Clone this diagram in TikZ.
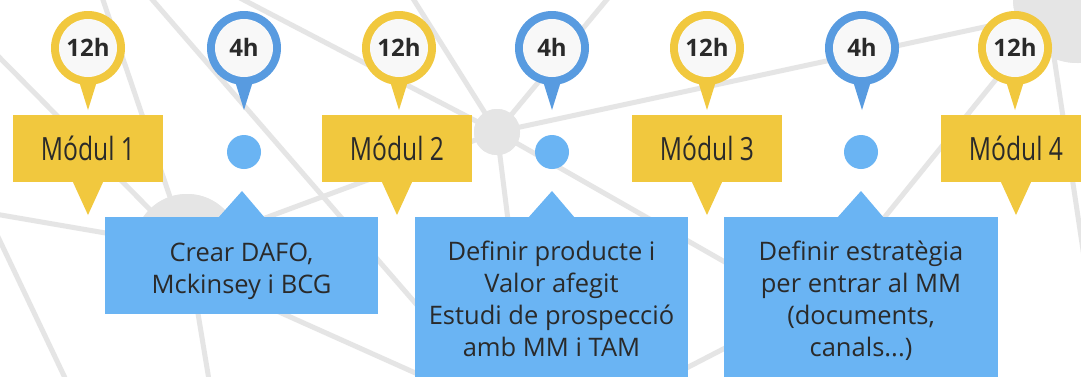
\documentclass[tikz,border=0pt]{standalone}
\usepackage{fontspec}
\setmainfont{Open Sans}
\newfontfamily\modfont[FakeStretch=0.77]{Open Sans}
\definecolor{ycol}{HTML}{F1C83E}
\definecolor{pcol}{HTML}{589BE0}
\definecolor{bcol}{HTML}{6AB4F3}
\definecolor{gcol}{HTML}{E5E5E5}
\definecolor{pinin}{HTML}{F8F8F8}
\definecolor{txt}{HTML}{2A2A2A}
\tikzset{
  gline/.style={draw=gcol, line width=5pt},
  gnode/.style={circle, fill=gcol, inner sep=0pt},
  pinouter/.style={circle, inner sep=0pt, minimum size=74pt},
  pininner/.style={circle, fill=pinin, inner sep=0pt, minimum size=58pt, text=txt,
    font=\bfseries\fontsize{24}{24}\selectfont, text height=17pt, text depth=0pt},
  modbox/.style={fill=ycol, inner sep=0pt, minimum width=150pt, minimum height=67pt, text=txt,
    font=\modfont\fontsize{32}{32}\selectfont, text height=23pt, text depth=0pt},
  bluebox/.style={fill=bcol, inner sep=0pt, anchor=north west},
  bdot/.style={circle, fill=bcol, inner sep=0pt, minimum size=34pt},
  btext/.style={anchor=base, inner sep=0pt, text=txt, font=\fontsize{25.5}{32}\selectfont}
}
\begin{document}
\begin{tikzpicture}[x=1pt,y=-1pt]
\useasboundingbox (0,0) rectangle (1081,376);
\clip (0,0) rectangle (1081,376);
\fill[white] (0,0) rectangle (1081,376);

% background network
\node[gnode, minimum size=46pt] (n1) at (497,132) {};
\node[gnode, minimum size=106pt] (n2) at (187,247) {};
\node[gnode, minimum size=130pt] (n3) at (1078,-2) {};
\coordinate (e1) at (-2,56);
\coordinate (e2) at (102,-3);
\coordinate (e3a) at (150,-3);
\coordinate (e3b) at (482,380);
\coordinate (e4) at (-5,214);
\coordinate (e5a) at (-10,220);
\coordinate (e5b) at (66,380);
\coordinate (e6) at (209,380);
\coordinate (e7) at (240,-2);
\coordinate (e8) at (412,-3);
\coordinate (e9) at (609,-3);
\coordinate (e11) at (1040,15);
\coordinate (e12) at (528,380);
\coordinate (e13) at (830,322);
\coordinate (e14a) at (230,290);
\coordinate (e14b) at (440,384);
\coordinate (e15a) at (640,392);
\coordinate (e15b) at (760,330);
\coordinate (e16a) at (1060,0);
\coordinate (e16b) at (800,322);
\coordinate (e17a) at (1045,-3);
\coordinate (e17b) at (1086,270);
\draw[gline] (e1) -- (n2.center);
\draw[gline] (e2) -- (n2.center);
\draw[gline] (e3a) -- (e3b);
\draw[gline] (e4) -- (n2.center);
\draw[gline] (e5a) -- (e5b);
\draw[gline] (n2.center) -- (e6);
\draw[gline] (e7) -- (n1.center);
\draw[gline] (e8) -- (n1.center);
\draw[gline] (e9) -- (n1.center);
\draw[gline] (n1.center) -- (n2.center);
\draw[gline] (n1.center) -- (e11);
\draw[gline] (n1.center) -- (e12);
\draw[gline] (n1.center) -- (e13);
\draw[gline] (e14a) -- (e14b);
\draw[gline] (e15a) -- (e15b);
\draw[gline] (e16a) -- (e16b);
\draw[gline] (e17a) -- (e17b);
\node[gnode, minimum size=46pt] at (497,132) {};
\node[gnode, minimum size=106pt] at (187,247) {};
\node[gnode, minimum size=130pt] at (1078,-2) {};

% pins
\foreach \x/\c/\t/\n in {88/ycol/12h/1, 244/pcol/4h/2, 399/ycol/12h/3, 552/pcol/4h/4, 707/ycol/12h/5, 862/pcol/4h/6, 1015/ycol/12h/7} {
  \fill[\c] (\x-10,78) -- (\x+10,78) -- (\x,110) -- cycle;
  \node[pinouter, fill=\c] (pin\n) at (\x,48) {};
  \node[pininner] (pint\n) at (\x,48) {\t};
}

% module boxes
\foreach \x/\n in {88/1, 397/2, 707/3, 1016/4} {
  \fill[ycol] (\x-16,180) -- (\x+16,180) -- (\x,215) -- cycle;
  \node[modbox] (m\n) at (\x,148.5) {Módul \n};
}

% blue dots
\node[bdot] (d1) at (244,152) {};
\node[bdot] (d2) at (552,152) {};
\node[bdot] (d3) at (861,152) {};

% blue boxes
\fill[bcol] (218,218) -- (265,218) -- (242,191) -- cycle;
\node[bluebox, minimum width=273pt, minimum height=97pt] (b1) at (105,217) {};
\fill[bcol] (528,218) -- (575,218) -- (552,191) -- cycle;
\node[bluebox, minimum width=273pt, minimum height=170pt] (b2) at (415,217) {};
\fill[bcol] (837,218) -- (884,218) -- (861,191) -- cycle;
\node[bluebox, minimum width=274pt, minimum height=170pt] (b3) at (724,217) {};

\node[btext] (t1a) at (241.5,261) {Crear DAFO,};
\node[btext] (t1b) at (241.5,293) {Mckinsey i BCG};

\node[btext] (t2a) at (551.5,260) {Definir producte i};
\node[btext] (t2b) at (551.5,292) {Valor afegit};
\node[btext] (t2c) at (551.5,324) {Estudi de prospecció};
\node[btext] (t2d) at (551.5,356) {amb MM i TAM};

\node[btext] (t3a) at (861,260) {Definir estratègia};
\node[btext] (t3b) at (861,292) {per entrar al MM};
\node[btext] (t3c) at (861,324) {(documents,};
\node[btext] (t3d) at (861,356) {canals...)};
\end{tikzpicture}
\end{document}
